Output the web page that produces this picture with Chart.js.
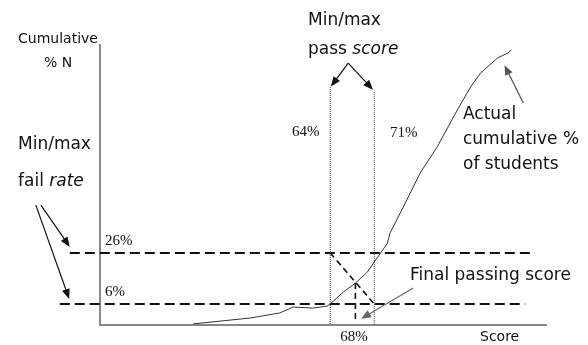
<!DOCTYPE html>
<html>
<head>
<meta charset="utf-8">
<script src="https://cdn.jsdelivr.net/npm/chart.js@4.4.1/dist/chart.umd.min.js"></script>
<style>
  body { margin: 0; background: #fff; }
  #wrap { width: 588px; height: 345px; }
</style>
</head>
<body>
<div id="wrap"><canvas id="chart" width="588" height="345"></canvas></div>
<script>
// Cumulative curve (score %, cumulative % of students)
const scoreX = [42.2, 51.3, 56.0, 58.1, 61.3, 63.5, 64, 66.1, 68.0, 69.9, 71, 72, 73.1, 73.5, 75.6, 78.3, 81.0, 84.2, 86.3, 87.9, 90.6, 92.2, 92.8];
const cumPct = [-1.8, 0.5, 2.5, 4.8, 4.4, 5.2, 6, 10.7, 14.2, 18.5, 22.5, 26, 29.9, 33.8, 44, 57.4, 67.6, 82.1, 91.1, 96.6, 102.5, 104.4, 105.6];

// Min/max fail rate and pass score
const failRates = [6, 26];
const failLineStart = [21.0, 22.6];
const failLineEnd = [95.0, 95.8];
const passScores = [64, 71];
const passLineTop = [91.1, 89.1];
const finalScore = 68;
const finalCross = 14.2;
const finalBottom = -0.3;

const xRange = [27.4, 98.3];
const yRange = [-2.24, 107.6];

// annotation arrows [fromX, fromY, toX, toY]
const arrows = [
    [66.86, 100.5, 64.1, 91.3],
    [66.86, 100.5, 70.8, 90.0],
    [94.7, 84.8, 91.7, 99.7],
    [18.0, 44.8, 22.6, 28.4],
    [17.2, 44.8, 22.5, 8.0],
    [77.2, 12.3, 68.9, 0.2]
];
const arrowColors = ['#111', '#111', '#555', '#111', '#111', '#666'];

const pts = (xs, ys) => xs.map((x, i) => ({ x: x, y: ys[i] }));

const dashed = {
    borderColor: '#111',
    borderWidth: 1.8,
    borderDash: [10, 5],
    pointRadius: 0,
    showLine: true,
    clip: false
};
const dotted = {
    borderColor: '#333',
    borderWidth: 1,
    borderDash: [1, 1],
    pointRadius: 0,
    showLine: true,
    clip: false
};

const datasets = [
    {
        data: pts(scoreX, cumPct),
        borderColor: '#333',
        borderWidth: 1,
        pointRadius: 0,
        showLine: true,
        tension: 0,
        clip: false
    }
];
failRates.forEach((r, i) => {
    datasets.push({ ...dashed, data: [{ x: failLineStart[i], y: r }, { x: failLineEnd[i], y: r }] });
});
passScores.forEach((s, i) => {
    datasets.push({ ...dotted, data: [{ x: s, y: passLineTop[i] }, { x: s, y: yRange[0] }] });
});
datasets.push({ ...dashed, borderWidth: 1.6, borderDash: [6, 4],
    data: [{ x: passScores[0], y: failRates[1] }, { x: passScores[1], y: failRates[0] }] });
datasets.push({ ...dashed, borderWidth: 1.6, borderDash: [6, 4],
    data: [{ x: finalScore, y: finalCross }, { x: finalScore, y: finalBottom }] });

// Text labels and arrows
const annotations = {
    id: 'annotations',
    afterDraw(chart) {
        const ctx = chart.ctx;
        const xs = chart.scales.x, ys = chart.scales.y;

        arrows.forEach((a, i) => {
            const x1 = xs.getPixelForValue(a[0]), y1 = ys.getPixelForValue(a[1]);
            const x2 = xs.getPixelForValue(a[2]), y2 = ys.getPixelForValue(a[3]);
            const ang = Math.atan2(y2 - y1, x2 - x1);
            ctx.save();
            ctx.strokeStyle = arrowColors[i];
            ctx.fillStyle = arrowColors[i];
            ctx.lineWidth = 1.2;
            ctx.beginPath();
            ctx.moveTo(x1, y1);
            ctx.lineTo(x2 - 6 * Math.cos(ang), y2 - 6 * Math.sin(ang));
            ctx.stroke();
            ctx.beginPath();
            ctx.moveTo(x2, y2);
            ctx.lineTo(x2 - 10 * Math.cos(ang) + 4 * Math.sin(ang), y2 - 10 * Math.sin(ang) - 4 * Math.cos(ang));
            ctx.lineTo(x2 - 10 * Math.cos(ang) - 4 * Math.sin(ang), y2 - 10 * Math.sin(ang) + 4 * Math.cos(ang));
            ctx.closePath();
            ctx.fill();
            ctx.restore();
        });

        const sans = '"DejaVu Sans", Verdana, sans-serif';
        const serif = '"Liberation Serif", "Times New Roman", serif';
        ctx.save();
        ctx.fillStyle = '#111';
        ctx.textBaseline = 'middle';

        function txt(s, x, y, font, align) {
            ctx.font = font;
            ctx.textAlign = align || 'left';
            ctx.fillText(s, x, y);
        }
        function mixed(a, b, x, y, size) {
            ctx.textAlign = 'left';
            ctx.font = size + 'px ' + sans;
            ctx.fillText(a, x, y);
            const w = ctx.measureText(a).width;
            ctx.font = 'italic ' + size + 'px ' + sans;
            ctx.fillText(b, x + w, y);
        }

        txt('Cumulative', 58, 39, '14px ' + sans, 'center');
        txt('% N', 58, 63, '14px ' + sans, 'center');

        txt('Min/max', 308, 21, '17px ' + sans);
        mixed('pass ', 'score', 308, 50, 17);

        txt('Min/max', 18, 145, '17px ' + sans);
        mixed('fail ', 'rate', 18, 182, 17);

        txt('Actual', 463, 115, '17px ' + sans);
        txt('cumulative %', 463, 140, '17px ' + sans);
        txt('of students', 463, 165, '17px ' + sans);

        txt('Final passing score', 410, 276, '17px ' + sans);
        txt('Score', 480, 337, '14px ' + sans);

        txt('64%', 292, 132, '15px ' + serif);
        txt('71%', 390, 133, '15px ' + serif);
        txt('26%', 105, 241, '15px ' + serif);
        txt('6%', 105, 292, '15px ' + serif);
        txt('68%', 354, 337, '15px ' + serif, 'center');
        ctx.restore();
    }
};

new Chart(document.getElementById('chart'), {
    type: 'scatter',
    data: { datasets: datasets },
    options: {
        responsive: false,
        animation: false,
        devicePixelRatio: 1,
        layout: { padding: { left: 92, right: 42, top: 45, bottom: 12 } },
        plugins: { legend: { display: false }, tooltip: { enabled: false } },
        scales: {
            x: {
                type: 'linear',
                min: xRange[0],
                max: xRange[1],
                grid: { display: false },
                ticks: { display: false },
                border: { display: true, color: '#888', width: 2 }
            },
            y: {
                type: 'linear',
                min: yRange[0],
                max: yRange[1],
                grid: { display: false },
                ticks: { display: false },
                border: { display: true, color: '#888', width: 2 }
            }
        }
    },
    plugins: [annotations]
});
</script>
</body>
</html>
